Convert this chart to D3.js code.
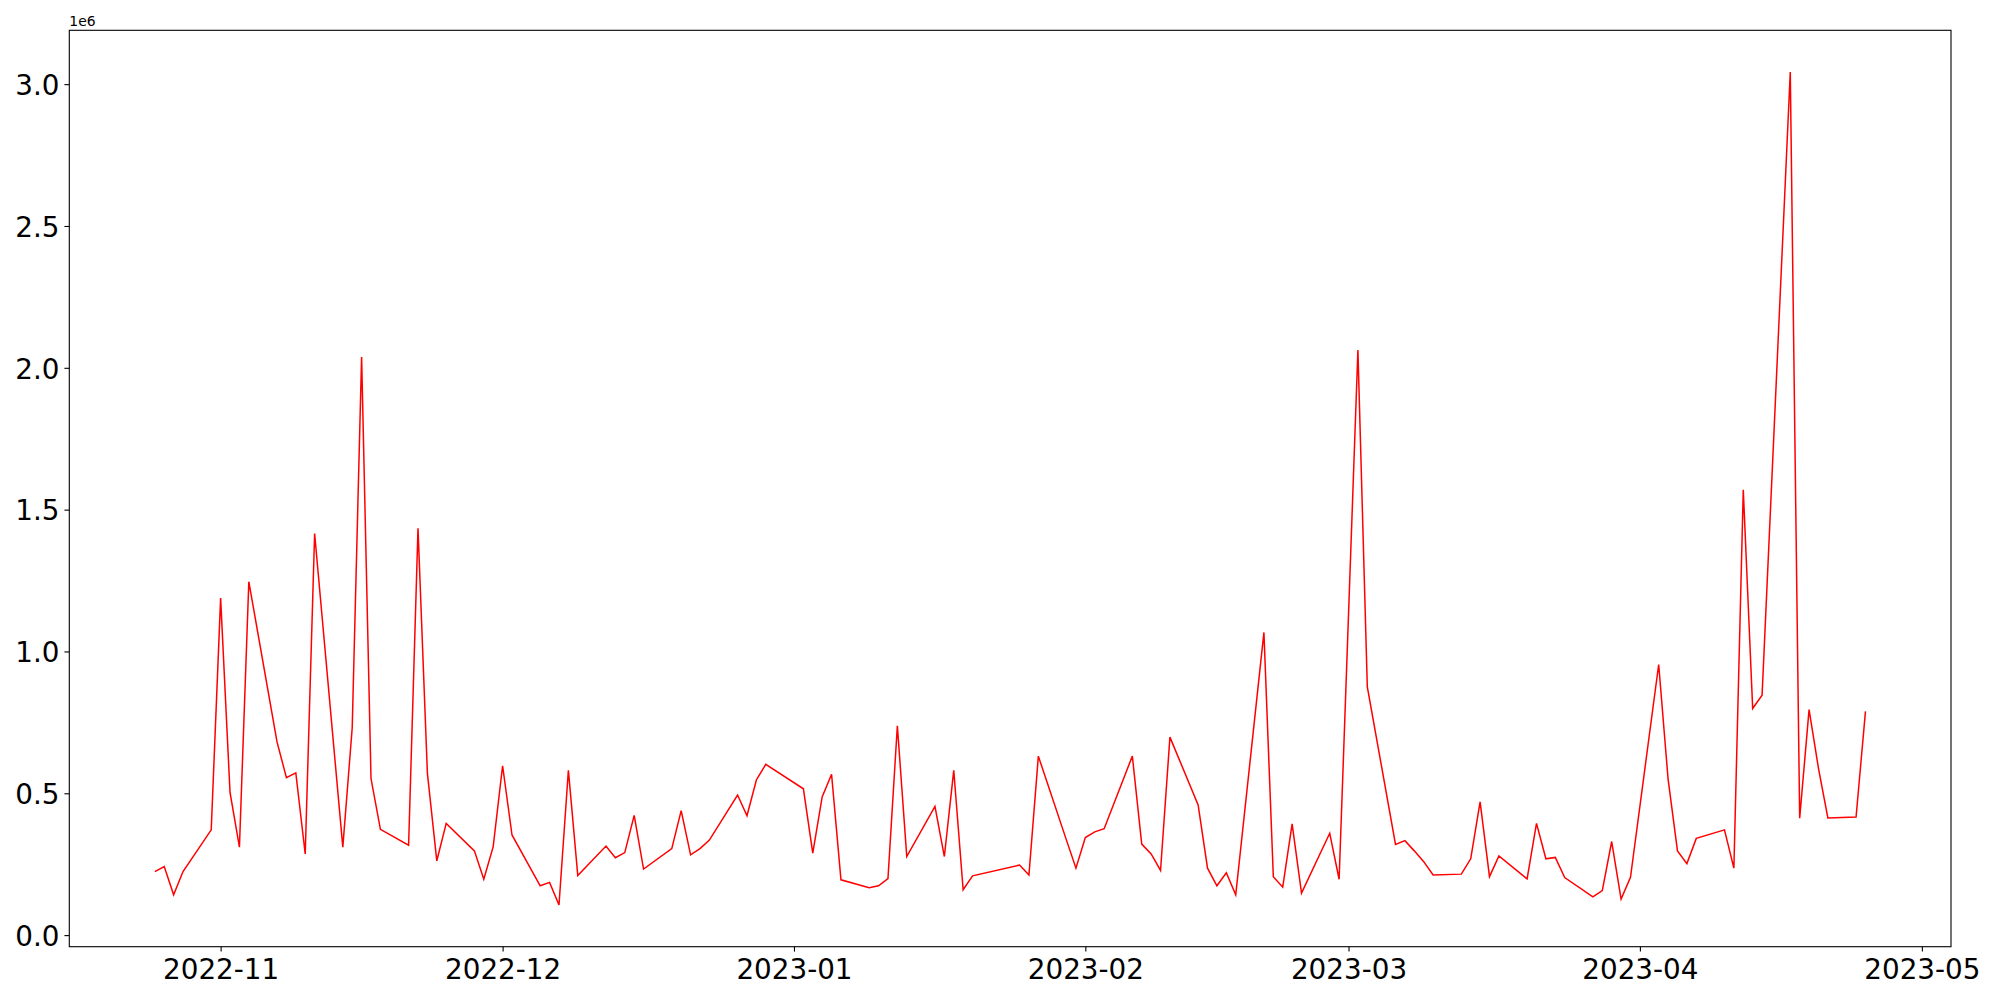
<!DOCTYPE html>
<html>
<head>
<meta charset="utf-8">
<script src="https://cdn.jsdelivr.net/npm/d3@7"></script>
<style>
  html, body { margin: 0; padding: 0; background: #fff; }
  svg { display: block; }
  text { font-family: "DejaVu Sans", sans-serif; fill: #000; }
</style>
</head>
<body>
<svg id="chart" width="2000" height="1000"></svg>
<script>
// ---- data (trading days) ----
const dates = [
  "2022-10-25","2022-10-26","2022-10-27","2022-10-28","2022-10-31",
  "2022-11-01","2022-11-02","2022-11-03","2022-11-04",
  "2022-11-07","2022-11-08","2022-11-09","2022-11-10","2022-11-11",
  "2022-11-14","2022-11-15","2022-11-16","2022-11-17","2022-11-18",
  "2022-11-21","2022-11-22","2022-11-23","2022-11-24","2022-11-25",
  "2022-11-28","2022-11-29","2022-11-30","2022-12-01","2022-12-02",
  "2022-12-05","2022-12-06","2022-12-07","2022-12-08","2022-12-09",
  "2022-12-12","2022-12-13","2022-12-14","2022-12-15","2022-12-16",
  "2022-12-19","2022-12-20","2022-12-21","2022-12-22","2022-12-23",
  "2022-12-26","2022-12-27","2022-12-28","2022-12-29",
  "2023-01-02","2023-01-03","2023-01-04","2023-01-05","2023-01-06",
  "2023-01-09","2023-01-10","2023-01-11","2023-01-12","2023-01-13",
  "2023-01-16","2023-01-17","2023-01-18","2023-01-19","2023-01-20",
  "2023-01-25","2023-01-26","2023-01-27",
  "2023-01-30","2023-01-31","2023-02-01","2023-02-02","2023-02-03",
  "2023-02-06","2023-02-07","2023-02-08","2023-02-09","2023-02-10",
  "2023-02-13","2023-02-14","2023-02-15","2023-02-16","2023-02-17",
  "2023-02-20","2023-02-21","2023-02-22","2023-02-23","2023-02-24",
  "2023-02-27","2023-02-28","2023-03-02","2023-03-03",
  "2023-03-06","2023-03-07","2023-03-08","2023-03-09","2023-03-10",
  "2023-03-13","2023-03-14","2023-03-15","2023-03-16","2023-03-17",
  "2023-03-20","2023-03-21","2023-03-22","2023-03-23","2023-03-24",
  "2023-03-27","2023-03-28","2023-03-29","2023-03-30","2023-03-31",
  "2023-04-03","2023-04-04","2023-04-05","2023-04-06","2023-04-07",
  "2023-04-10","2023-04-11","2023-04-12","2023-04-13","2023-04-14",
  "2023-04-17","2023-04-18","2023-04-19","2023-04-20","2023-04-21",
  "2023-04-24","2023-04-25"
];

const values = [
  224000, 242000, 142000, 224000, 371000,
  1188000, 503000, 310000, 1246000,
  681000, 555000, 572000, 286000, 1416000,
  310000, 731000, 2038000, 552000, 373000,
  317000, 1434000, 570000, 262000, 394000,
  297000, 197000, 312000, 597000, 353000,
  174000, 186000, 106000, 581000, 210000,
  314000, 273000, 291000, 422000, 233000,
  305000, 439000, 283000, 305000, 335000,
  494000, 421000, 547000, 602000,
  516000, 289000, 487000, 567000, 195000,
  167000, 174000, 199000, 738000, 277000,
  454000, 277000, 581000, 160000, 209000,
  247000, 212000, 631000,
  334000, 236000, 344000, 364000, 375000,
  631000, 321000, 286000, 228000, 698000,
  459000, 236000, 174000, 220000, 142000,
  1067000, 206000, 169000, 392000, 148000,
  359000, 197000, 2063000, 875000,
  320000, 333000, 297000, 259000, 212000,
  215000, 269000, 470000, 206000, 279000,
  198000, 394000, 269000, 274000, 203000,
  135000, 157000, 330000, 127000, 204000,
  954000, 550000, 297000, 252000, 341000,
  371000, 236000, 1570000, 799000, 846000,
  3043000, 412000, 795000, 588000, 413000,
  416000, 789000
];

const yTickValues = [0, 500000, 1000000, 1500000, 2000000, 2500000, 3000000];
const xTickLabels = ["2022-11","2022-12","2023-01","2023-02","2023-03","2023-04","2023-05"];
const offsetLabel = "1e6";

// ---- layout ----
const W = 2000, H = 1000;
const plot = { left: 69.3, right: 1951, top: 30.3, bottom: 946.7 };
const fontPx = 27.8;

const parse = d3.utcParse("%Y-%m-%d");
const parseMonth = d3.utcParse("%Y-%m");
const data = dates.map((d, i) => ({ date: parse(d), value: values[i] }));

// matplotlib-style 5% margins
const xExt = d3.extent(data, d => d.date);
const xSpan = xExt[1] - xExt[0];
const x = d3.scaleUtc()
  .domain([new Date(+xExt[0] - 0.05 * xSpan), new Date(+xExt[1] + 0.05 * xSpan)])
  .range([plot.left, plot.right]);

const yExt = d3.extent(data, d => d.value);
const ySpan = yExt[1] - yExt[0];
const y = d3.scaleLinear()
  .domain([yExt[0] - 0.05 * ySpan, yExt[1] + 0.05 * ySpan])
  .range([plot.bottom, plot.top]);

const svg = d3.select("#chart");
svg.append("rect").attr("width", W).attr("height", H).attr("fill", "#fff");

// line
const line = d3.line().x(d => x(d.date)).y(d => y(d.value));
svg.append("path")
  .datum(data)
  .attr("fill", "none")
  .attr("stroke", "#ff0000")
  .attr("stroke-width", 1.5)
  .attr("stroke-linejoin", "miter")
  .attr("d", line);

// axes
const xAxis = d3.axisBottom(x)
  .tickValues(xTickLabels.map(s => parseMonth(s)))
  .tickFormat(d3.utcFormat("%Y-%m"))
  .tickSizeInner(4.9).tickSizeOuter(0).tickPadding(4.9);
const gx = svg.append("g").attr("transform", `translate(0,${plot.bottom})`).call(xAxis);
gx.select(".domain").remove();
gx.selectAll(".tick line").attr("stroke", "#000").attr("stroke-width", 1.1);
gx.selectAll(".tick text")
  .attr("font-size", fontPx)
  .attr("font-family", "DejaVu Sans")
  .attr("fill", "#000")
  .attr("dy", null)
  .attr("y", 32.5);

const yAxis = d3.axisLeft(y)
  .tickValues(yTickValues)
  .tickFormat(v => d3.format(".1f")(v / 1e6))
  .tickSizeInner(4.9).tickSizeOuter(0).tickPadding(4.9);
const gy = svg.append("g").attr("transform", `translate(${plot.left},0)`).call(yAxis);
gy.select(".domain").remove();
gy.selectAll(".tick line").attr("stroke", "#000").attr("stroke-width", 1.1);
gy.selectAll(".tick text")
  .attr("font-size", fontPx)
  .attr("font-family", "DejaVu Sans")
  .attr("fill", "#000")
  .attr("dy", null)
  .attr("y", 10.2)
  .attr("x", -9.8);

// frame (spines)
svg.append("rect")
  .attr("x", plot.left).attr("y", plot.top)
  .attr("width", plot.right - plot.left).attr("height", plot.bottom - plot.top)
  .attr("fill", "none").attr("stroke", "#000").attr("stroke-width", 1.1);

// offset text
svg.append("text")
  .attr("x", plot.left).attr("y", 25.5)
  .attr("font-size", 13.9)
  .text(offsetLabel);
</script>
</body>
</html>
